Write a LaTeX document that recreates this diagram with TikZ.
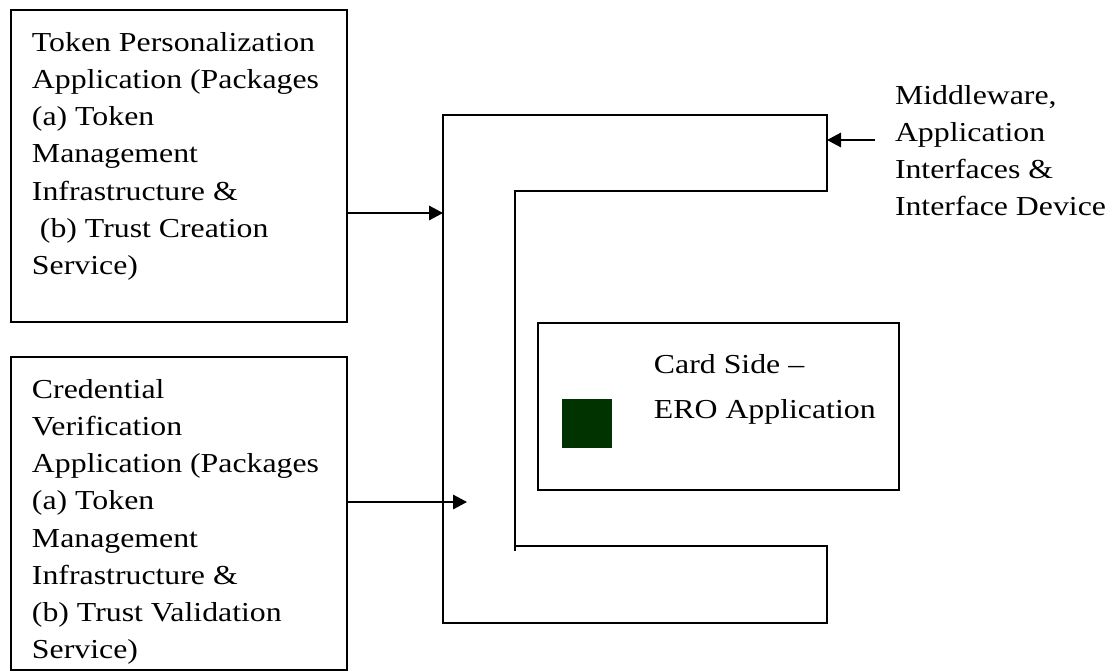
\documentclass[tikz,border=0pt]{standalone}
\usepackage{fontspec}
\setmainfont{Liberation Serif}[FakeStretch=1.16]
\usetikzlibrary{arrows.meta}
\definecolor{chipgreen}{RGB}{0,51,0}
\begin{document}
\begin{tikzpicture}[x=0.025cm, y=-0.025cm, line width=1.4pt,
    appbox/.style={draw, rectangle, anchor=north west, inner sep=0pt, outer sep=0pt},
    boxtext/.style={anchor=north west, align=left, inner sep=0pt, font=\fontsize{19.5}{26.5}\selectfont},
    flow/.style={-{Triangle[length=0.35cm, width=0.36cm]}}]
    \useasboundingbox (0,0) rectangle (1108,671);

    % application boxes
    \node[appbox, minimum width=8.4cm, minimum height=7.8cm] (tpabox) at (11,10) {};
    \node[appbox, minimum width=8.4cm, minimum height=7.825cm] (cvabox) at (11,357) {};
    \node[appbox, minimum width=9.025cm, minimum height=4.175cm] (cardbox) at (538,323) {};
    \node[anchor=north west, fill=chipgreen, inner sep=0pt, outer sep=0pt,
        minimum width=1.25cm, minimum height=1.225cm] (chip) at (562,399) {};

    \node[boxtext] (tpatext) at (31,31) {Token Personalization\\Application (Packages\\(a) Token\\Management\\Infrastructure \&\\\ (b) Trust Creation\\Service)};
    \node[boxtext] (cvatext) at (31,378) {Credential\\Verification\\Application (Packages\\(a) Token\\Management\\Infrastructure \&\\(b) Trust Validation\\Service)};
    \node[boxtext] (mwtext) at (894,84) {Middleware,\\Application\\Interfaces \&\\Interface Device};
    \node[boxtext, font=\fontsize{19.5}{32}\selectfont] (cardtext) at (653,353) {Card Side --\\ERO Application};

    % middleware layer
    \draw (515,551) -- (515,191) -- (827,191) -- (827,115) -- (443,115) -- (443,623)
        -- (827,623) -- (827,546) -- (515,546);

    \coordinate (cLeft) at (443,213);
    \coordinate (cRight) at (827,140);
    \coordinate (mwTail) at (875,140);
    \coordinate (cvTip) at (467,502);
    \draw[flow] (tpabox.east |- cLeft) -- (cLeft);
    \draw[flow] (cvabox.east |- cvTip) -- (cvTip);
    \draw[flow] (mwTail) -- (cRight);
\end{tikzpicture}
\end{document}
